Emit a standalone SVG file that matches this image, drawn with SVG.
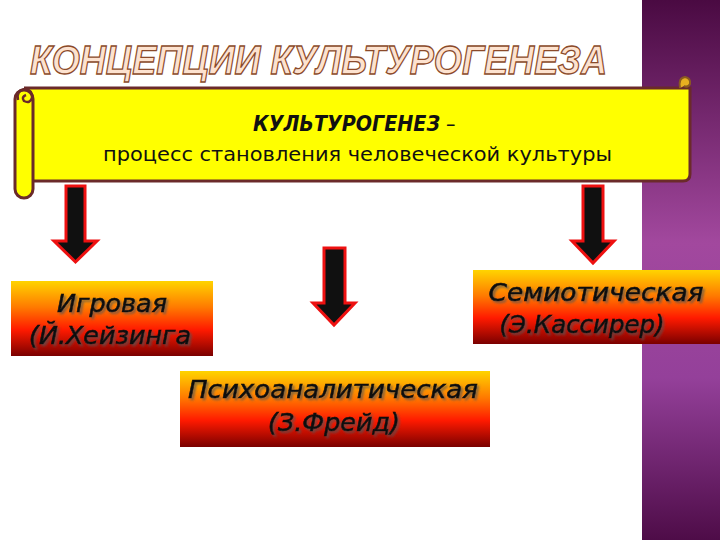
<svg xmlns="http://www.w3.org/2000/svg" width="720" height="540" viewBox="0 0 720 540">
<defs>
<linearGradient id="purple" x1="0" y1="0" x2="0" y2="1">
<stop offset="0" stop-color="#4a0a42"/>
<stop offset="0.45" stop-color="#a2489e"/>
<stop offset="0.7" stop-color="#94409a"/>
<stop offset="1" stop-color="#4e0c48"/>
</linearGradient>
<linearGradient id="fire" x1="0" y1="0" x2="0" y2="1">
<stop offset="0" stop-color="#ffd400"/>
<stop offset="0.35" stop-color="#ff7a00"/>
<stop offset="0.65" stop-color="#ff1a00"/>
<stop offset="1" stop-color="#7a0000"/>
</linearGradient>
<filter id="sh" x="-10%" y="-30%" width="120%" height="160%">
<feDropShadow dx="2" dy="2" stdDeviation="0.8" flood-color="#555" flood-opacity="0.7"/>
</filter>
<style>
.box{fill:url(#fire);}
.arrow{fill:#101010;stroke:#ee1111;stroke-width:3;stroke-linejoin:miter;}
.btxt{font-family:"DejaVu Sans",sans-serif;font-style:italic;font-size:25px;fill:#111;stroke:#111;stroke-width:0.6;text-anchor:middle;filter:url(#sh);}
.scroll{fill:#ffff00;stroke:#6b2a2a;stroke-width:3;}
</style>
</defs>
<rect x="0" y="0" width="720" height="540" fill="#ffffff"/>
<rect x="642" y="0" width="78" height="540" fill="url(#purple)"/>
<text x="30" y="74" font-family="Liberation Sans, sans-serif" font-style="italic" font-weight="bold" font-size="40" textLength="577" lengthAdjust="spacingAndGlyphs" fill="#fde2cf" stroke="#8b4a2a" stroke-width="1.3">КОНЦЕПЦИИ КУЛЬТУРОГЕНЕЗА</text>
<g id="header">
<path class="scroll" d="M24 88 H690 V174 Q690 181 683 181 H33"/>
<path d="M680 88 Q678 78 685 77 Q691 78 690 84 Q688 88 684 86" fill="#e8b020" stroke="#8a5a20" stroke-width="2"/>
<rect class="scroll" x="15" y="90" width="18" height="108" rx="9"/>
<path d="M18 100 Q16 90 25 89 Q33 90 32 98 Q30 104 24 101 Q21 97 26 95" fill="none" stroke="#6b2a2a" stroke-width="2.5"/>
<text x="253" y="131" font-family="DejaVu Sans Condensed, DejaVu Sans, sans-serif" font-size="21" fill="#111"><tspan font-weight="bold" font-style="italic" textLength="187" lengthAdjust="spacingAndGlyphs">КУЛЬТУРОГЕНЕЗ</tspan><tspan> –</tspan></text>
<text x="103" y="161" font-family="DejaVu Sans Condensed, DejaVu Sans, sans-serif" font-size="20" textLength="509" lengthAdjust="spacingAndGlyphs" fill="#111">процесс становления человеческой культуры</text>
</g>
<g id="connectors">
<polygon class="arrow" points="66,186 85,186 85,241 97,241 75.5,262 54,241 66,241"/>
<polygon class="arrow" points="324,248 345,248 345,303 355,303 334,325 313,303 324,303"/>
<polygon class="arrow" points="583,186 603,186 603,241 614,241 593,263 572,241 583,241"/>
</g>
<g id="igrovaya">
<rect class="box" x="11" y="281" width="202" height="75"/>
<text class="btxt" x="112" y="312" textLength="110" lengthAdjust="spacingAndGlyphs">Игровая</text>
<text class="btxt" x="110" y="344" textLength="162" lengthAdjust="spacingAndGlyphs">(Й.Хейзинга</text>
</g>
<g id="semioticheskaya">
<rect class="box" x="473" y="270" width="247" height="74"/>
<text class="btxt" x="596" y="301" textLength="215" lengthAdjust="spacingAndGlyphs">Семиотическая</text>
<text class="btxt" x="582" y="333" textLength="165" lengthAdjust="spacingAndGlyphs">(Э.Кассирер)</text>
</g>
<g id="psikhoanaliticheskaya">
<rect class="box" x="180" y="371" width="310" height="76"/>
<text class="btxt" x="333" y="398" textLength="290" lengthAdjust="spacingAndGlyphs">Психоаналитическая</text>
<text class="btxt" x="334" y="431" textLength="132" lengthAdjust="spacingAndGlyphs">(З.Фрейд)</text>
</g>
</svg>
